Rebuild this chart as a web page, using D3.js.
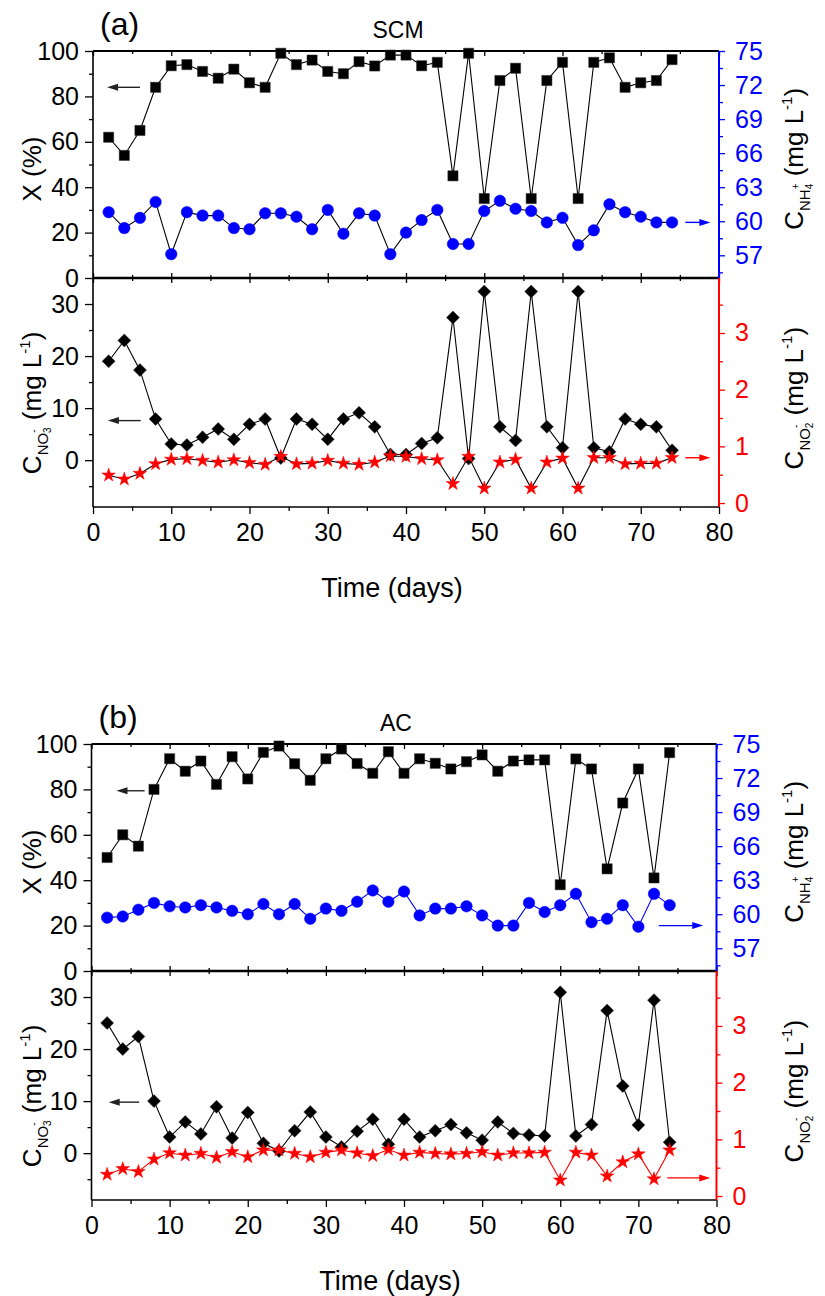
<!DOCTYPE html>
<html>
<head>
<meta charset="utf-8">
<script src="https://cdn.jsdelivr.net/npm/d3@7"></script>
<style>
  html, body { margin: 0; padding: 0; background: #fff; }
  svg { display: block; }
</style>
</head>
<body>
<svg id="chart" width="825" height="1296"></svg>
<script>
// Sampling days (every second day)
const days = [2,4,6,8,10,12,14,16,18,20,22,24,26,28,30,32,34,36,38,40,42,44,46,48,50,52,54,56,58,60,62,64,66,68,70,72,74];

// (a) SCM reactor
const scmConversion = [62,54,65,84,93.5,94,91,88,92,86,84,99,94,96,91,90,95.3,93.4,98.2,98.2,93.5,95,45,99,35,87,92.4,35,87,95,35,95,97,84,86,87,96.2];
const scmAmmonium   = [60.8,59.4,60.3,61.7,57.1,60.8,60.5,60.5,59.4,59.3,60.7,60.7,60.4,59.3,61.0,58.9,60.7,60.5,57.1,59.0,60.1,61.0,58.0,58.0,60.9,61.8,61.1,60.9,59.9,60.3,57.9,59.2,61.5,60.8,60.4,59.9,59.9];
const scmNitrate    = [19,23,17.3,7.9,3.1,2.9,4.4,6.0,4.0,6.9,7.9,0.4,7.9,6.9,4.0,7.9,9.1,6.4,1.1,1.1,3.2,4.3,27.4,0.3,32.4,6.4,3.8,32.4,6.4,2.4,32.4,2.4,1.6,7.9,6.9,6.4,1.9];
const scmNitrite    = [0.49,0.42,0.52,0.69,0.77,0.78,0.75,0.72,0.76,0.71,0.68,0.82,0.69,0.70,0.75,0.70,0.68,0.72,0.83,0.82,0.78,0.76,0.34,0.82,0.26,0.72,0.77,0.26,0.72,0.79,0.26,0.80,0.80,0.69,0.70,0.70,0.80];

// (b) AC reactor
const acConversion = [50,60,55,80,93.5,88,92.5,82.2,94.4,84.6,96.3,99.1,91.3,84,93.5,97.8,91.4,87.1,96.6,87.1,93.5,91.5,89,92.2,95.2,88,92.5,93,93,38,93.4,89,45,74,89,41,96.2];
const acAmmonium   = [59.7,59.8,60.4,61.0,60.7,60.6,60.8,60.6,60.3,60.0,60.9,60.0,60.9,59.6,60.5,60.3,61.1,62.1,61.1,62.0,59.9,60.5,60.5,60.7,59.9,59.0,59.0,61.0,60.2,60.8,61.8,59.3,59.6,60.8,58.9,61.8,60.8];
const acNitrate    = [25,20,22.4,10,3.1,6.0,3.7,8.9,2.9,7.8,1.9,0.4,4.3,7.9,3.1,1.2,4.2,6.5,1.7,6.5,3.1,4.3,5.5,3.9,2.5,6.0,3.8,3.5,3.3,30.9,3.3,5.5,27.4,12.9,5.4,29.4,2.1];
const acNitrite    = [0.38,0.48,0.43,0.65,0.76,0.72,0.75,0.68,0.78,0.69,0.81,0.81,0.75,0.69,0.77,0.81,0.76,0.71,0.82,0.72,0.77,0.75,0.74,0.75,0.78,0.72,0.76,0.76,0.77,0.28,0.77,0.72,0.35,0.60,0.74,0.30,0.81];

// Tick values
const timeTicks      = [0,10,20,30,40,50,60,70,80];
const timeMinor      = [5,15,25,35,45,55,65,75];
const convTicks      = [0,20,40,60,80,100];
const convMinor      = [10,30,50,70,90];
const ammoniumTicks  = [57,60,63,66,69,72,75];
const ammoniumMinor  = [55.5,58.5,61.5,64.5,67.5,70.5,73.5];
const nitrateTicks   = [0,10,20,30];
const nitrateMinor   = [-5,5,15,25];
const nitriteTicks   = [0,1,2,3];
const nitriteMinor   = [0.5,1.5,2.5,3.5];

const FONT = '"Liberation Sans", Arial, Helvetica, sans-serif';
const BLUE = "#0000ff", RED = "#ff0000";
const svg = d3.select("#chart");
const intFmt = d3.format("d");

const squareShape  = s => `M${-s},${-s}H${s}V${s}H${-s}Z`;
const diamondShape = r => `M0,${-r}L${r},0L0,${r}L${-r},0Z`;
const circleShape  = d3.symbol(d3.symbolCircle, 104)();
const starShape    = d3.symbol(d3.symbolStar, 58)();

function styleAxis(sel, color, size) {
  sel.attr("font-family", FONT).attr("font-size", size).style("color", color);
  sel.select(".domain").remove();
  sel.selectAll(".tick line").attr("stroke-width", 1.3);
}

// Rotated axis title such as  C_{NO3^-} (mg L^-1)
function chemTitle(g, x, y, species, charge, num, chargeWidth) {
  const t = g.append("text")
    .attr("transform", `translate(${x},${y}) rotate(-90)`)
    .attr("text-anchor", "middle")
    .attr("font-family", FONT).attr("font-size", 26).attr("fill", "#000");
  t.append("tspan").text("C");
  t.append("tspan").attr("font-size", 15).attr("dy", 7).text(species);
  t.append("tspan").attr("font-size", 10).attr("dy", -11).text(charge);
  t.append("tspan").attr("font-size", 10).attr("dx", -chargeWidth).attr("dy", 14).text(num);
  t.append("tspan").attr("dy", -10).text(" (mg L");
  t.append("tspan").attr("font-size", 15).attr("dy", -11).text("-1");
  t.append("tspan").attr("dy", 11).text(")");
}

function drawPanel(cfg) {
  const { left, right, top, mid, bottom } = cfg.box;
  const g = svg.append("g");

  const x     = d3.scaleLinear().domain([0, 80]).range([left, right]);
  const yConv = d3.scaleLinear().domain([0, 100]).range([mid, top]);
  const yNH   = d3.scaleLinear().domain([55, 75]).range([mid, top]);
  const yNO3  = d3.scaleLinear().domain([-9, 35]).range([bottom, mid]);
  const yNO2  = d3.scaleLinear().domain([-0.07, 3.97]).range([bottom, mid]);

  // ---- axes ----
  const addAxis = (gen, tx, ty, color, size) => {
    const a = g.append("g").attr("transform", `translate(${tx},${ty})`).call(gen);
    styleAxis(a, color, size);
    return a;
  };
  // left
  addAxis(d3.axisLeft(yConv).tickValues(convTicks).tickSize(8).tickPadding(6).tickFormat(intFmt), left, 0, "#000", 25);
  addAxis(d3.axisLeft(yConv).tickValues(convMinor).tickSize(4).tickFormat(""), left, 0, "#000", 25);
  addAxis(d3.axisLeft(yNO3).tickValues(nitrateTicks).tickSize(8).tickPadding(6).tickFormat(intFmt), left, 0, "#000", 25);
  addAxis(d3.axisLeft(yNO3).tickValues(nitrateMinor).tickSize(4).tickFormat(""), left, 0, "#000", 25);
  // right
  addAxis(d3.axisRight(yNH).tickValues(ammoniumTicks).tickSize(6).tickPadding(10).tickFormat(intFmt), right, 0, BLUE, 25);
  addAxis(d3.axisRight(yNH).tickValues(ammoniumMinor).tickSize(4).tickFormat(""), right, 0, BLUE, 25);
  addAxis(d3.axisRight(yNO2).tickValues(nitriteTicks).tickSize(6).tickPadding(10).tickFormat(intFmt), right, 0, RED, 25);
  addAxis(d3.axisRight(yNO2).tickValues(nitriteMinor).tickSize(4).tickFormat(""), right, 0, RED, 25);
  // bottom
  addAxis(d3.axisBottom(x).tickValues(timeTicks).tickSize(7).tickPadding(9).tickFormat(intFmt), 0, bottom, "#000", 25);
  addAxis(d3.axisBottom(x).tickValues(timeMinor).tickSize(4).tickFormat(""), 0, bottom, "#000", 25);
  // inner ticks on the top border and on the shared middle line
  addAxis(d3.axisBottom(x).tickValues(timeTicks).tickSize(5).tickFormat(""), 0, top, "#000", 25);
  addAxis(d3.axisBottom(x).tickValues(timeMinor).tickSize(3).tickFormat(""), 0, top, "#000", 25);
  addAxis(d3.axisTop(x).tickValues(timeTicks).tickSize(5).tickFormat(""), 0, mid, "#000", 25);
  addAxis(d3.axisTop(x).tickValues(timeMinor).tickSize(3).tickFormat(""), 0, mid, "#000", 25);
  addAxis(d3.axisBottom(x).tickValues(timeTicks).tickSize(5).tickFormat(""), 0, mid, "#000", 25);
  addAxis(d3.axisBottom(x).tickValues(timeMinor).tickSize(3).tickFormat(""), 0, mid, "#000", 25);

  // ---- frame ----
  g.append("line").attr("x1", left).attr("x2", right).attr("y1", top).attr("y2", top).attr("stroke", "#000").attr("stroke-width", 2);
  g.append("line").attr("x1", left).attr("x2", right).attr("y1", mid).attr("y2", mid).attr("stroke", "#000").attr("stroke-width", 2.5);
  g.append("line").attr("x1", left).attr("x2", right).attr("y1", bottom).attr("y2", bottom).attr("stroke", "#000").attr("stroke-width", 1.6);
  g.append("line").attr("x1", left).attr("x2", left).attr("y1", top).attr("y2", bottom).attr("stroke", "#000").attr("stroke-width", 1.6);
  g.append("line").attr("x1", right).attr("x2", right).attr("y1", top).attr("y2", mid).attr("stroke", BLUE).attr("stroke-width", 2);
  g.append("line").attr("x1", right).attr("x2", right).attr("y1", mid).attr("y2", bottom).attr("stroke", RED).attr("stroke-width", 2);

  // ---- series ----
  const series = (values, y, lineColor, shape, fill) => {
    const pts = days.map((d, i) => [x(d), y(values[i])]);
    g.append("path").attr("d", d3.line()(pts)).attr("fill", "none")
      .attr("stroke", lineColor).attr("stroke-width", 1.1);
    g.append("g").selectAll("path").data(pts).join("path")
      .attr("transform", p => `translate(${p[0]},${p[1]})`)
      .attr("d", shape).attr("fill", fill)
      .attr("stroke", fill === "#000" ? "#333" : fill).attr("stroke-width", 0.5);
  };
  series(cfg.conversion, yConv, "#000", squareShape(5.1), "#000");
  series(cfg.ammonium, yNH, cfg.ammoniumLine, circleShape, BLUE);
  series(cfg.nitrate, yNO3, "#000", diamondShape(6.5), "#000");
  series(cfg.nitrite, yNO2, cfg.nitriteLine, starShape, RED);

  // ---- arrows pointing to the matching axis ----
  const arrow = (x1, x2, y, color) => {
    const dir = Math.sign(x2 - x1);
    g.append("line").attr("x1", x1).attr("x2", x2 - dir * 8).attr("y1", y).attr("y2", y)
      .attr("stroke", color).attr("stroke-width", 1.4);
    g.append("path").attr("d", `M${x2},${y}L${x2 - dir * 11},${y - 3.5}L${x2 - dir * 11},${y + 3.5}Z`)
      .attr("fill", color);
  };
  const A = cfg.arrows;
  arrow(x(A.conv[1]), x(A.conv[0]), yConv(A.conv[2]), "#222");
  arrow(x(A.nh[0]), x(A.nh[1]), yNH(A.nh[2]), BLUE);
  arrow(x(A.no3[1]), x(A.no3[0]), yNO3(A.no3[2]), "#222");
  arrow(x(A.no2[0]), x(A.no2[1]), yNO2(A.no2[2]), RED);

  // ---- texts ----
  g.append("text").attr("x", left + 7).attr("y", top - 16).attr("font-family", FONT)
    .attr("font-size", 32).text(cfg.tag);
  g.append("text").attr("x", (left + right) / 2 - 8).attr("y", top - 13).attr("text-anchor", "middle")
    .attr("font-family", FONT).attr("font-size", 23).text(cfg.name);
  g.append("text").attr("x", (left + right) / 2 - 14).attr("y", bottom + 90).attr("text-anchor", "middle")
    .attr("font-family", FONT).attr("font-size", 27).text("Time (days)");

  g.append("text").attr("transform", `translate(41,${yConv(48)}) rotate(-90)`).attr("text-anchor", "middle")
    .attr("font-family", FONT).attr("font-size", 26).text("X (%)");
  chemTitle(g, 41, yNO3(11), "NO", "-", "3", 3.4);
  chemTitle(g, 803, yNH(65.5), "NH", "+", "4", 5.7);
  chemTitle(g, 803, yNO2(1.85), "NO", "-", "2", 3.4);
}

drawPanel({
  box: { left: 93, right: 719, top: 51, mid: 278, bottom: 507 },
  tag: "(a)", name: "SCM",
  conversion: scmConversion, ammonium: scmAmmonium, nitrate: scmNitrate, nitrite: scmNitrite,
  ammoniumLine: "#000", nitriteLine: "#000",
  arrows: { conv: [1.8, 6.0, 84], nh: [75.7, 78.9, 59.9], no3: [1.9, 6.1, 7.6], no2: [75.7, 78.9, 0.80] }
});

drawPanel({
  box: { left: 91.5, right: 716.5, top: 744, mid: 971, bottom: 1200 },
  tag: "(b)", name: "AC",
  conversion: acConversion, ammonium: acAmmonium, nitrate: acNitrate, nitrite: acNitrite,
  ammoniumLine: BLUE, nitriteLine: RED,
  arrows: { conv: [3.2, 6.8, 79.4], nh: [72.6, 78.3, 59.0], no3: [2.2, 6.1, 9.8], no2: [73.7, 79.2, 0.32] }
});
</script>
</body>
</html>
